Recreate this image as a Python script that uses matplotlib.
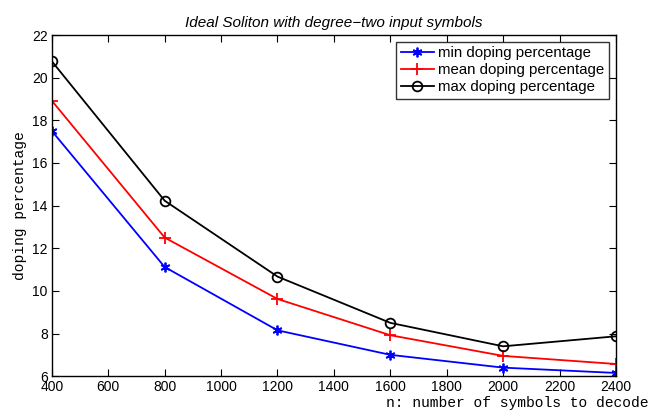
import matplotlib
matplotlib.use("Agg")
import matplotlib.pyplot as plt

# number of symbols n and the measured doping percentages
n_symbols = [400, 800, 1200, 1600, 2000, 2400]
min_doping = [17.5, 11.12, 8.15, 7.0, 6.4, 6.15]
mean_doping = [18.92, 12.5, 9.62, 7.92, 6.95, 6.57]
max_doping = [20.77, 14.23, 10.67, 8.5, 7.4, 7.87]

xticks = list(range(400, 2401, 200))
yticks = list(range(6, 23, 2))

plt.rcParams['font.family'] = ['Liberation Sans', 'DejaVu Sans']

fig = plt.figure(figsize=(6.56, 4.12), dpi=100)
ax = fig.add_axes([0.079, 0.087, 0.86, 0.828])

ax.plot(n_symbols, min_doping, color='blue', marker=(6, 2, 0), markersize=7,
        markeredgewidth=1.3, linewidth=1.3, label='min doping percentage')
ax.plot(n_symbols, mean_doping, color='red', marker='+', markersize=8,
        markeredgewidth=1.3, linewidth=1.3, label='mean doping percentage')
ax.plot(n_symbols, max_doping, color='black', marker='o', markersize=7,
        markerfacecolor='none', markeredgewidth=1.3, linewidth=1.3,
        label='max doping percentage')

ax.set_xlim(400, 2400)
ax.set_ylim(6, 22)
ax.set_xticks(xticks)
ax.set_yticks(yticks)
ax.tick_params(direction='in', top=True, right=True, labelsize=10, length=5,
               pad=3)
for s in ax.spines.values():
    s.set_linewidth(1.0)

ax.set_title('Ideal Soliton with degree\u2212two input symbols', fontsize=11,
             style='italic', pad=6)

fig.text(0.988, 0.012, 'n: number of symbols to decode', ha='right',
         va='baseline', family='Liberation Mono', fontsize=10.5)
fig.text(0.031, 0.5, 'doping percentage', rotation=90, ha='center',
         va='center', family='Liberation Mono', fontsize=10.5)

leg = ax.legend(loc='upper right', fontsize=10.8, frameon=True, fancybox=False,
                borderpad=0.3, labelspacing=0.2, handlelength=2.2,
                handletextpad=0.3, borderaxespad=0.45)
leg.get_frame().set_edgecolor('black')
leg.get_frame().set_linewidth(1.0)

fig.savefig('out.png', dpi=100)
